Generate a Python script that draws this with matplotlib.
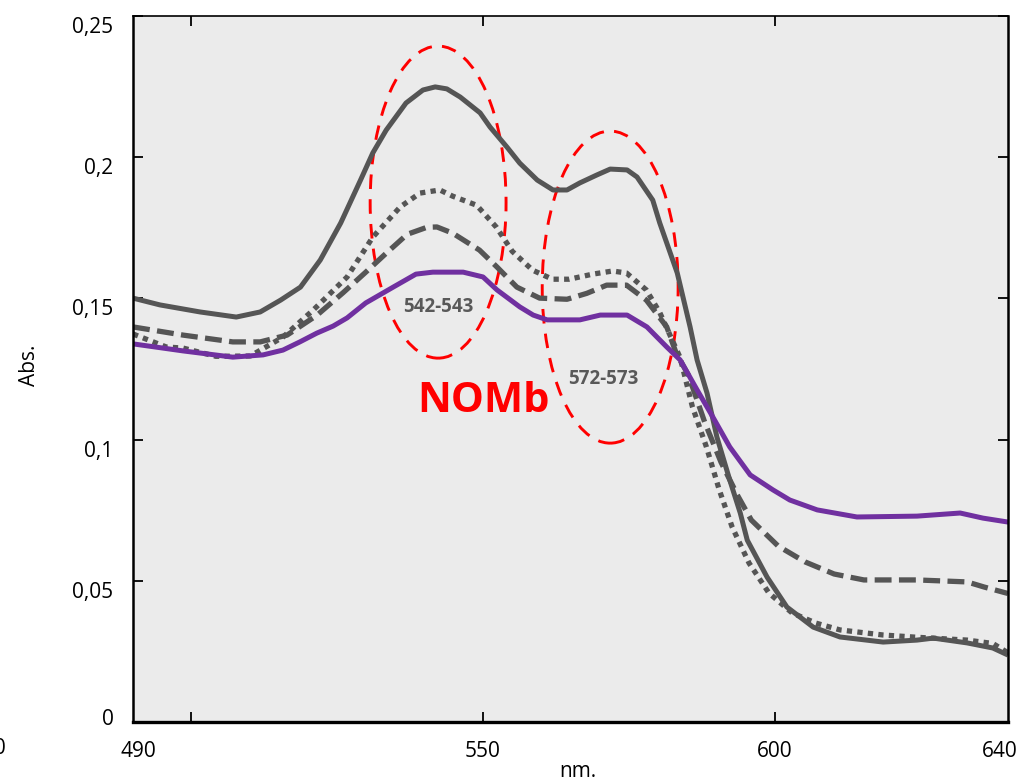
#!/usr/bin/env python3
import numpy as np
import matplotlib
matplotlib.use("Agg")
import matplotlib.pyplot as plt
from matplotlib.patches import Ellipse
from matplotlib.transforms import ScaledTranslation

plt.rcParams['font.family'] = ['Open Sans', 'DejaVu Sans']

# =========================================================
# Data
# =========================================================

# solid grey
wl_solid = [490.0, 494.6, 501.5, 507.7, 511.8, 515.3, 518.7, 522.1, 525.6, 529.0,
            531.1, 533.4, 536.8, 539.7, 541.8, 543.8, 546.1, 549.5, 551.2, 554.1,
            556.3, 559.3, 562.0, 564.4, 566.6, 569.5, 571.8, 574.7, 576.4, 579.1,
            580.3, 583.3, 585.5, 586.7, 588.4, 590.1, 592.3, 594.1, 595.3, 598.7,
            602.1, 606.6, 611.2, 618.6, 624.4, 627.2, 633.0, 637.4, 640.0]
abs_solid = [0.1501, 0.1477, 0.1452, 0.1434, 0.1452, 0.1494, 0.1540, 0.1636, 0.1767, 0.1919,
             0.2015, 0.2096, 0.2192, 0.2238, 0.2249, 0.2242, 0.2213, 0.2157, 0.2107, 0.2036,
             0.1979, 0.1919, 0.1884, 0.1884, 0.1909, 0.1937, 0.1958, 0.1955, 0.1930, 0.1848,
             0.1767, 0.1590, 0.1399, 0.1282, 0.1165, 0.1009, 0.0857, 0.0740, 0.0644, 0.0513,
             0.0407, 0.0336, 0.0301, 0.0283, 0.0290, 0.0297, 0.0280, 0.0262, 0.0237]

# dotted grey
wl_dot = [490.0, 495.7, 498.6, 504.2, 510.1, 515.7, 520.9, 526.7, 531.1, 535.8,
          539.2, 542.6, 544.8, 548.9, 552.3, 555.0, 558.5, 561.9, 564.8, 568.8,
          572.2, 574.6, 578.0, 580.3, 583.8, 585.9, 588.3, 590.5, 592.7, 595.6,
          599.0, 603.0, 607.1, 611.2, 618.6, 624.4, 633.0, 637.4, 640.0]
abs_dot = [0.1374, 0.1328, 0.1324, 0.1295, 0.1296, 0.1363, 0.1459, 0.1576, 0.1717, 0.1824,
           0.1873, 0.1884, 0.1862, 0.1830, 0.1752, 0.1667, 0.1600, 0.1568, 0.1568, 0.1586,
           0.1597, 0.1590, 0.1530, 0.1450, 0.1290, 0.1116, 0.0974, 0.0822, 0.0691, 0.0563,
           0.0457, 0.0386, 0.0350, 0.0326, 0.0308, 0.0300, 0.0290, 0.0278, 0.0245]

# dashed grey
wl_dash = [490.0, 491.2, 498.6, 507.1, 511.8, 516.4, 521.5, 526.0, 529.9, 533.4,
           537.0, 540.4, 542.1, 544.8, 549.4, 552.4, 555.8, 559.7, 564.4, 567.8,
           571.2, 574.6, 578.0, 581.5, 583.1, 585.2, 588.0, 590.8, 593.7, 596.0,
           600.6, 605.2, 610.2, 615.3, 624.4, 633.0, 635.9, 640.0]
abs_dash = [0.1399, 0.1395, 0.1370, 0.1346, 0.1346, 0.1370, 0.1440, 0.1520, 0.1593, 0.1660,
            0.1727, 0.1752, 0.1753, 0.1731, 0.1671, 0.1611, 0.1540, 0.1501, 0.1497, 0.1518,
            0.1547, 0.1547, 0.1494, 0.1399, 0.1307, 0.1229, 0.1062, 0.0920, 0.0800, 0.0715,
            0.0623, 0.0567, 0.0524, 0.0503, 0.0503, 0.0496, 0.0478, 0.0455]

# purple
wl_purple = [490.0, 498.6, 507.1, 512.3, 515.7, 518.6, 521.5, 524.3, 526.7, 529.9,
             534.6, 538.5, 541.4, 546.6, 550.0, 552.4, 556.3, 558.6, 561.0, 566.6,
             570.1, 574.7, 578.1, 581.5, 583.8, 586.7, 589.4, 592.3, 595.8, 599.7,
             602.6, 607.3, 614.1, 624.4, 631.8, 635.7, 640.0]
abs_purple = [0.1339, 0.1314, 0.1292, 0.1300, 0.1317, 0.1346, 0.1377, 0.1402, 0.1431, 0.1484,
              0.1540, 0.1586, 0.1593, 0.1593, 0.1576, 0.1530, 0.1470, 0.1441, 0.1424, 0.1424,
              0.1441, 0.1441, 0.1399, 0.1328, 0.1282, 0.1176, 0.1080, 0.0974, 0.0875, 0.0822,
              0.0786, 0.0751, 0.0726, 0.0729, 0.0740, 0.0722, 0.0708]

y_ticks = [0, 0.05, 0.1, 0.15, 0.2, 0.25]
y_labels = ["0", "0,05", "0,1", "0,15", "0,2", "0,25"]
x_ticks = [500, 550, 600]
x_label_pos = [490.9, 550, 600, 638.6]
x_label_txt = ["490", "550", "600", "640"]

# =========================================================
# Figure
# =========================================================

fig = plt.figure(figsize=(10.25, 7.78), dpi=100)
ax = fig.add_axes([0.1298, 0.072, 0.8536, 0.9074])
ax.set_facecolor("#ebebeb")

grey = "#555555"
ax.plot(wl_solid, abs_solid, color=grey, lw=3.6, solid_capstyle="butt")
ax.plot(wl_dot, abs_dot, color=grey, lw=3.8, linestyle=(0, (1.0, 1.0)),
        dash_capstyle="butt")
ax.plot(wl_dash, abs_dash, color=grey, lw=3.8, linestyle=(0, (3.2, 1.4)),
        dash_capstyle="butt")
ax.plot(wl_purple, abs_purple, color="#7030a0", lw=3.6)

# red dashed ellipses
for cx, cy in [(542.3, 0.1841), (571.8, 0.1540)]:
    e = Ellipse((cx, cy), 23.3, 0.1105, fill=False, edgecolor="#ff0000",
                lw=2.1, linestyle=(0, (5, 3.5)))
    ax.add_patch(e)

ax.text(542.3, 0.147, "542-543", color="#595959", fontsize=13.5,
        fontweight="bold", ha="center", va="center")
ax.text(570.6, 0.1215, "572-573", color="#595959", fontsize=13.5,
        fontweight="bold", ha="center", va="center")
ax.text(550.1, 0.1135, "NOMb", color="#ff0000", fontsize=30,
        fontweight="bold", ha="center", va="center")

# =========================================================
# Axes formatting
# =========================================================

ax.set_xlim(490, 640)
ax.set_ylim(0, 0.25)

ax.set_yticks(y_ticks)
ax.set_yticklabels(y_labels, fontsize=15)
ax.set_xticks(x_ticks)
ax.set_xticklabels([])
ax.tick_params(direction="in", length=7, width=1.3, top=True, right=True, pad=14)

# tick labels sit a little below their ticks in the reference
for lab, val in zip(ax.get_yticklabels(), y_ticks):
    dy = 5 if val == 0 else -9
    lab.set_transform(lab.get_transform() + ScaledTranslation(0, dy / 100, fig.dpi_scale_trans))

for xp, t in zip(x_label_pos, x_label_txt):
    ax.text(xp, -0.0105, t, fontsize=15, ha="center", va="center")
# clipped label at the left edge of the image
fig.text(6 / 1025, 1 - 748 / 778, "480", fontsize=15, ha="right", va="center")

ax.set_xlabel("nm.", fontsize=15)
ax.xaxis.set_label_coords(0.508, -0.055)
ax.set_ylabel("Abs.", fontsize=15)
ax.yaxis.set_label_coords(-0.106, 0.505)

for side in ["left", "bottom", "right", "top"]:
    ax.spines[side].set_color("black")
ax.spines["left"].set_linewidth(1.8)
ax.spines["bottom"].set_linewidth(2.4)
ax.spines["right"].set_linewidth(1.8)
ax.spines["top"].set_linewidth(1.2)

plt.savefig("out.png", dpi=100)
plt.close()
